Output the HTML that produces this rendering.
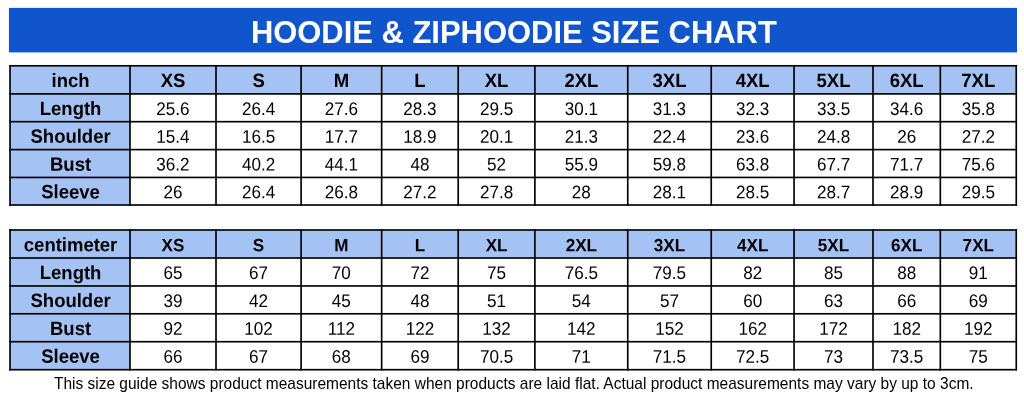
<!DOCTYPE html>
<html><head><meta charset="utf-8"><title>Hoodie &amp; Ziphoodie Size Chart</title>
<style>
html,body{margin:0;padding:0;background:#fff;}
body{width:1024px;height:406px;position:relative;overflow:hidden;font-family:"Liberation Sans",Arial,sans-serif;color:#000;}
svg{position:absolute;left:0;top:0;font-family:"Liberation Sans",Arial,sans-serif;}
text{text-anchor:middle;fill:#000;}
.t{font-weight:bold;font-size:30.95px;fill:#fff;}
.h{font-weight:bold;font-size:18.5px;}
.s{font-size:17.1px;}
.d{font-size:17.1px;}
.n{font-size:15.502px;}
</style></head><body>
<svg width="1024" height="406" viewBox="0 0 1024 406">
<rect x="8.95" y="7.9" width="1008.05" height="44.52" fill="#1155cc"/>
<text class="t" transform="translate(513.85 43.2) rotate(0.02) scale(1 0.995)">HOODIE &amp; ZIPHOODIE SIZE CHART</text>
<rect x="10.03" y="65.80" width="1006.22" height="28.10" fill="#a4c2f4"/>
<rect x="10.03" y="65.80" width="119.97" height="139.20" fill="#a4c2f4"/>
<rect x="9.21" y="64.97" width="1007.87" height="1.65" fill="#000"/>
<rect x="9.21" y="93.08" width="1007.87" height="1.65" fill="#000"/>
<rect x="9.21" y="120.86" width="1007.87" height="1.65" fill="#000"/>
<rect x="9.21" y="148.78" width="1007.87" height="1.65" fill="#000"/>
<rect x="9.21" y="176.62" width="1007.87" height="1.65" fill="#000"/>
<rect x="9.21" y="204.18" width="1007.87" height="1.65" fill="#000"/>
<rect x="9.21" y="64.97" width="1.65" height="140.85" fill="#000"/>
<rect x="129.18" y="64.97" width="1.65" height="140.85" fill="#000"/>
<rect x="215.18" y="64.97" width="1.65" height="140.85" fill="#000"/>
<rect x="300.28" y="64.97" width="1.65" height="140.85" fill="#000"/>
<rect x="380.82" y="64.97" width="1.65" height="140.85" fill="#000"/>
<rect x="457.38" y="64.97" width="1.65" height="140.85" fill="#000"/>
<rect x="534.07" y="64.97" width="1.65" height="140.85" fill="#000"/>
<rect x="626.92" y="64.97" width="1.65" height="140.85" fill="#000"/>
<rect x="710.42" y="64.97" width="1.65" height="140.85" fill="#000"/>
<rect x="793.23" y="64.97" width="1.65" height="140.85" fill="#000"/>
<rect x="872.17" y="64.97" width="1.65" height="140.85" fill="#000"/>
<rect x="939.50" y="64.97" width="1.65" height="140.85" fill="#000"/>
<rect x="1015.42" y="64.97" width="1.65" height="140.85" fill="#000"/>
<rect x="10.03" y="230.00" width="1006.22" height="28.00" fill="#a4c2f4"/>
<rect x="10.03" y="230.00" width="119.97" height="139.70" fill="#a4c2f4"/>
<rect x="9.21" y="229.18" width="1007.87" height="1.65" fill="#000"/>
<rect x="9.21" y="257.18" width="1007.87" height="1.65" fill="#000"/>
<rect x="9.21" y="285.15" width="1007.87" height="1.65" fill="#000"/>
<rect x="9.21" y="312.95" width="1007.87" height="1.65" fill="#000"/>
<rect x="9.21" y="340.88" width="1007.87" height="1.65" fill="#000"/>
<rect x="9.21" y="368.88" width="1007.87" height="1.65" fill="#000"/>
<rect x="9.21" y="229.18" width="1.65" height="141.35" fill="#000"/>
<rect x="129.18" y="229.18" width="1.65" height="141.35" fill="#000"/>
<rect x="215.18" y="229.18" width="1.65" height="141.35" fill="#000"/>
<rect x="300.28" y="229.18" width="1.65" height="141.35" fill="#000"/>
<rect x="380.82" y="229.18" width="1.65" height="141.35" fill="#000"/>
<rect x="457.38" y="229.18" width="1.65" height="141.35" fill="#000"/>
<rect x="534.07" y="229.18" width="1.65" height="141.35" fill="#000"/>
<rect x="626.92" y="229.18" width="1.65" height="141.35" fill="#000"/>
<rect x="710.42" y="229.18" width="1.65" height="141.35" fill="#000"/>
<rect x="793.23" y="229.18" width="1.65" height="141.35" fill="#000"/>
<rect x="872.17" y="229.18" width="1.65" height="141.35" fill="#000"/>
<rect x="939.50" y="229.18" width="1.65" height="141.35" fill="#000"/>
<rect x="1015.42" y="229.18" width="1.65" height="141.35" fill="#000"/>
<text class="h" transform="translate(70.56 87.00) rotate(0.03) scale(1 1.04)">inch</text>
<text class="h" transform="translate(173.00 87.00) rotate(0.03) scale(1 1.04)">XS</text>
<text class="h" transform="translate(258.55 87.00) rotate(0.03) scale(1 1.04)">S</text>
<text class="h" transform="translate(341.38 87.00) rotate(0.03) scale(1 1.04)">M</text>
<text class="h" transform="translate(419.92 87.00) rotate(0.03) scale(1 1.04)">L</text>
<text class="h" transform="translate(496.55 87.00) rotate(0.03) scale(1 1.04)">XL</text>
<text class="h" transform="translate(581.33 87.00) rotate(0.03) scale(1 1.04)">2XL</text>
<text class="h" transform="translate(669.50 87.00) rotate(0.03) scale(1 1.04)">3XL</text>
<text class="h" transform="translate(752.65 87.00) rotate(0.03) scale(1 1.04)">4XL</text>
<text class="h" transform="translate(833.53 87.00) rotate(0.03) scale(1 1.04)">5XL</text>
<text class="h" transform="translate(906.66 87.00) rotate(0.03) scale(1 1.04)">6XL</text>
<text class="h" transform="translate(978.29 87.00) rotate(0.03) scale(1 1.04)">7XL</text>
<text class="h" transform="translate(70.56 114.94) rotate(0.03) scale(1 1.04)">Length</text>
<text class="d" transform="translate(173.00 114.89) rotate(0.03) scale(1 1.07)">25.6</text>
<text class="d" transform="translate(258.55 114.89) rotate(0.03) scale(1 1.07)">26.4</text>
<text class="d" transform="translate(341.38 114.89) rotate(0.03) scale(1 1.07)">27.6</text>
<text class="d" transform="translate(419.92 114.89) rotate(0.03) scale(1 1.07)">28.3</text>
<text class="d" transform="translate(496.55 114.89) rotate(0.03) scale(1 1.07)">29.5</text>
<text class="d" transform="translate(581.33 114.89) rotate(0.03) scale(1 1.07)">30.1</text>
<text class="d" transform="translate(669.50 114.89) rotate(0.03) scale(1 1.07)">31.3</text>
<text class="d" transform="translate(752.65 114.89) rotate(0.03) scale(1 1.07)">32.3</text>
<text class="d" transform="translate(833.53 114.89) rotate(0.03) scale(1 1.07)">33.5</text>
<text class="d" transform="translate(906.66 114.89) rotate(0.03) scale(1 1.07)">34.6</text>
<text class="d" transform="translate(978.29 114.89) rotate(0.03) scale(1 1.07)">35.8</text>
<text class="h" transform="translate(70.56 142.79) rotate(0.03) scale(1 1.04)">Shoulder</text>
<text class="d" transform="translate(173.00 142.74) rotate(0.03) scale(1 1.07)">15.4</text>
<text class="d" transform="translate(258.55 142.74) rotate(0.03) scale(1 1.07)">16.5</text>
<text class="d" transform="translate(341.38 142.74) rotate(0.03) scale(1 1.07)">17.7</text>
<text class="d" transform="translate(419.92 142.74) rotate(0.03) scale(1 1.07)">18.9</text>
<text class="d" transform="translate(496.55 142.74) rotate(0.03) scale(1 1.07)">20.1</text>
<text class="d" transform="translate(581.33 142.74) rotate(0.03) scale(1 1.07)">21.3</text>
<text class="d" transform="translate(669.50 142.74) rotate(0.03) scale(1 1.07)">22.4</text>
<text class="d" transform="translate(752.65 142.74) rotate(0.03) scale(1 1.07)">23.6</text>
<text class="d" transform="translate(833.53 142.74) rotate(0.03) scale(1 1.07)">24.8</text>
<text class="d" transform="translate(906.66 142.74) rotate(0.03) scale(1 1.07)">26</text>
<text class="d" transform="translate(978.29 142.74) rotate(0.03) scale(1 1.07)">27.2</text>
<text class="h" transform="translate(70.56 170.67) rotate(0.03) scale(1 1.04)">Bust</text>
<text class="d" transform="translate(173.00 170.62) rotate(0.03) scale(1 1.07)">36.2</text>
<text class="d" transform="translate(258.55 170.62) rotate(0.03) scale(1 1.07)">40.2</text>
<text class="d" transform="translate(341.38 170.62) rotate(0.03) scale(1 1.07)">44.1</text>
<text class="d" transform="translate(419.92 170.62) rotate(0.03) scale(1 1.07)">48</text>
<text class="d" transform="translate(496.55 170.62) rotate(0.03) scale(1 1.07)">52</text>
<text class="d" transform="translate(581.33 170.62) rotate(0.03) scale(1 1.07)">55.9</text>
<text class="d" transform="translate(669.50 170.62) rotate(0.03) scale(1 1.07)">59.8</text>
<text class="d" transform="translate(752.65 170.62) rotate(0.03) scale(1 1.07)">63.8</text>
<text class="d" transform="translate(833.53 170.62) rotate(0.03) scale(1 1.07)">67.7</text>
<text class="d" transform="translate(906.66 170.62) rotate(0.03) scale(1 1.07)">71.7</text>
<text class="d" transform="translate(978.29 170.62) rotate(0.03) scale(1 1.07)">75.6</text>
<text class="h" transform="translate(70.56 198.38) rotate(0.03) scale(1 1.04)">Sleeve</text>
<text class="d" transform="translate(173.00 198.32) rotate(0.03) scale(1 1.07)">26</text>
<text class="d" transform="translate(258.55 198.32) rotate(0.03) scale(1 1.07)">26.4</text>
<text class="d" transform="translate(341.38 198.32) rotate(0.03) scale(1 1.07)">26.8</text>
<text class="d" transform="translate(419.92 198.32) rotate(0.03) scale(1 1.07)">27.2</text>
<text class="d" transform="translate(496.55 198.32) rotate(0.03) scale(1 1.07)">27.8</text>
<text class="d" transform="translate(581.33 198.32) rotate(0.03) scale(1 1.07)">28</text>
<text class="d" transform="translate(669.50 198.32) rotate(0.03) scale(1 1.07)">28.1</text>
<text class="d" transform="translate(752.65 198.32) rotate(0.03) scale(1 1.07)">28.5</text>
<text class="d" transform="translate(833.53 198.32) rotate(0.03) scale(1 1.07)">28.7</text>
<text class="d" transform="translate(906.66 198.32) rotate(0.03) scale(1 1.07)">28.9</text>
<text class="d" transform="translate(978.29 198.32) rotate(0.03) scale(1 1.07)">29.5</text>
<text class="h" transform="translate(70.56 251.15) rotate(0.03) scale(1 1.04)">centimeter</text>
<text class="h s" transform="translate(173.00 251.15) rotate(0.03) scale(1 1.04)">XS</text>
<text class="h s" transform="translate(258.55 251.15) rotate(0.03) scale(1 1.04)">S</text>
<text class="h s" transform="translate(341.38 251.15) rotate(0.03) scale(1 1.04)">M</text>
<text class="h s" transform="translate(419.92 251.15) rotate(0.03) scale(1 1.04)">L</text>
<text class="h s" transform="translate(496.55 251.15) rotate(0.03) scale(1 1.04)">XL</text>
<text class="h s" transform="translate(581.33 251.15) rotate(0.03) scale(1 1.04)">2XL</text>
<text class="h s" transform="translate(669.50 251.15) rotate(0.03) scale(1 1.04)">3XL</text>
<text class="h s" transform="translate(752.65 251.15) rotate(0.03) scale(1 1.04)">4XL</text>
<text class="h s" transform="translate(833.53 251.15) rotate(0.03) scale(1 1.04)">5XL</text>
<text class="h s" transform="translate(906.66 251.15) rotate(0.03) scale(1 1.04)">6XL</text>
<text class="h s" transform="translate(978.29 251.15) rotate(0.03) scale(1 1.04)">7XL</text>
<text class="h" transform="translate(70.56 279.13) rotate(0.03) scale(1 1.04)">Length</text>
<text class="d" transform="translate(173.00 279.09) rotate(0.03) scale(1 1.07)">65</text>
<text class="d" transform="translate(258.55 279.09) rotate(0.03) scale(1 1.07)">67</text>
<text class="d" transform="translate(341.38 279.09) rotate(0.03) scale(1 1.07)">70</text>
<text class="d" transform="translate(419.92 279.09) rotate(0.03) scale(1 1.07)">72</text>
<text class="d" transform="translate(496.55 279.09) rotate(0.03) scale(1 1.07)">75</text>
<text class="d" transform="translate(581.33 279.09) rotate(0.03) scale(1 1.07)">76.5</text>
<text class="d" transform="translate(669.50 279.09) rotate(0.03) scale(1 1.07)">79.5</text>
<text class="d" transform="translate(752.65 279.09) rotate(0.03) scale(1 1.07)">82</text>
<text class="d" transform="translate(833.53 279.09) rotate(0.03) scale(1 1.07)">85</text>
<text class="d" transform="translate(906.66 279.09) rotate(0.03) scale(1 1.07)">88</text>
<text class="d" transform="translate(978.29 279.09) rotate(0.03) scale(1 1.07)">91</text>
<text class="h" transform="translate(70.56 307.02) rotate(0.03) scale(1 1.04)">Shoulder</text>
<text class="d" transform="translate(173.00 306.98) rotate(0.03) scale(1 1.07)">39</text>
<text class="d" transform="translate(258.55 306.98) rotate(0.03) scale(1 1.07)">42</text>
<text class="d" transform="translate(341.38 306.98) rotate(0.03) scale(1 1.07)">45</text>
<text class="d" transform="translate(419.92 306.98) rotate(0.03) scale(1 1.07)">48</text>
<text class="d" transform="translate(496.55 306.98) rotate(0.03) scale(1 1.07)">51</text>
<text class="d" transform="translate(581.33 306.98) rotate(0.03) scale(1 1.07)">54</text>
<text class="d" transform="translate(669.50 306.98) rotate(0.03) scale(1 1.07)">57</text>
<text class="d" transform="translate(752.65 306.98) rotate(0.03) scale(1 1.07)">60</text>
<text class="d" transform="translate(833.53 306.98) rotate(0.03) scale(1 1.07)">63</text>
<text class="d" transform="translate(906.66 306.98) rotate(0.03) scale(1 1.07)">66</text>
<text class="d" transform="translate(978.29 306.98) rotate(0.03) scale(1 1.07)">69</text>
<text class="h" transform="translate(70.56 334.89) rotate(0.03) scale(1 1.04)">Bust</text>
<text class="d" transform="translate(173.00 334.84) rotate(0.03) scale(1 1.07)">92</text>
<text class="d" transform="translate(258.55 334.84) rotate(0.03) scale(1 1.07)">102</text>
<text class="d" transform="translate(341.38 334.84) rotate(0.03) scale(1 1.07)">112</text>
<text class="d" transform="translate(419.92 334.84) rotate(0.03) scale(1 1.07)">122</text>
<text class="d" transform="translate(496.55 334.84) rotate(0.03) scale(1 1.07)">132</text>
<text class="d" transform="translate(581.33 334.84) rotate(0.03) scale(1 1.07)">142</text>
<text class="d" transform="translate(669.50 334.84) rotate(0.03) scale(1 1.07)">152</text>
<text class="d" transform="translate(752.65 334.84) rotate(0.03) scale(1 1.07)">162</text>
<text class="d" transform="translate(833.53 334.84) rotate(0.03) scale(1 1.07)">172</text>
<text class="d" transform="translate(906.66 334.84) rotate(0.03) scale(1 1.07)">182</text>
<text class="d" transform="translate(978.29 334.84) rotate(0.03) scale(1 1.07)">192</text>
<text class="h" transform="translate(70.56 362.85) rotate(0.03) scale(1 1.04)">Sleeve</text>
<text class="d" transform="translate(173.00 362.80) rotate(0.03) scale(1 1.07)">66</text>
<text class="d" transform="translate(258.55 362.80) rotate(0.03) scale(1 1.07)">67</text>
<text class="d" transform="translate(341.38 362.80) rotate(0.03) scale(1 1.07)">68</text>
<text class="d" transform="translate(419.92 362.80) rotate(0.03) scale(1 1.07)">69</text>
<text class="d" transform="translate(496.55 362.80) rotate(0.03) scale(1 1.07)">70.5</text>
<text class="d" transform="translate(581.33 362.80) rotate(0.03) scale(1 1.07)">71</text>
<text class="d" transform="translate(669.50 362.80) rotate(0.03) scale(1 1.07)">71.5</text>
<text class="d" transform="translate(752.65 362.80) rotate(0.03) scale(1 1.07)">72.5</text>
<text class="d" transform="translate(833.53 362.80) rotate(0.03) scale(1 1.07)">73</text>
<text class="d" transform="translate(906.66 362.80) rotate(0.03) scale(1 1.07)">73.5</text>
<text class="d" transform="translate(978.29 362.80) rotate(0.03) scale(1 1.07)">75</text>
<text class="n" transform="translate(513.75 388.65) rotate(0.01) scale(1 1.015)">This size guide shows product measurements taken when products are laid flat. Actual product measurements may vary by up to 3cm.</text>
</svg>
</body></html>
